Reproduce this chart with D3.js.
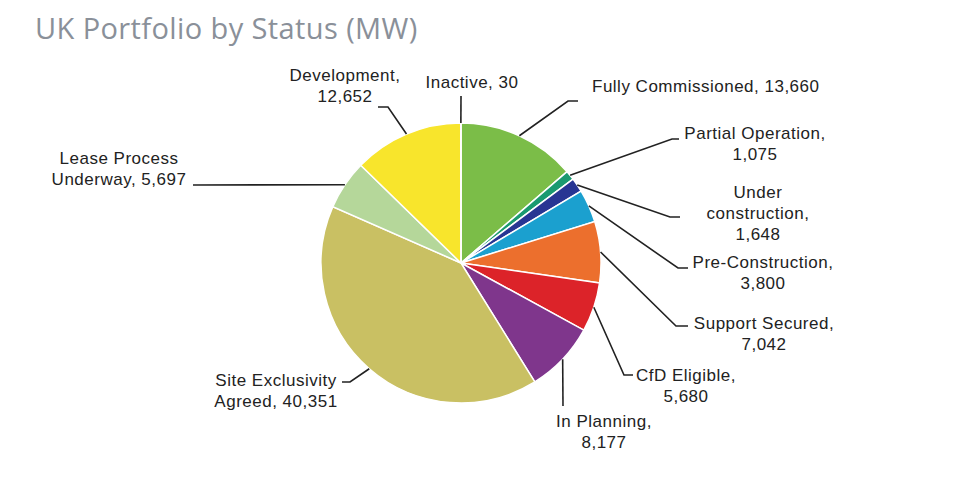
<!DOCTYPE html>
<html>
<head>
<meta charset="utf-8">
<script src="https://cdn.jsdelivr.net/npm/d3@7"></script>
<style>
  body { margin: 0; background: #fff; }
</style>
</head>
<body>
<script>
var canvasWidth = 960;
var canvasHeight = 478;
var PIE_RADIUS = 140;
var CX = 461, CY = 263;

// slices go clockwise from 12 o'clock
var statuses = ["Fully Commissioned", "Partial Operation", "Under construction",
                "Pre-Construction", "Support Secured", "CfD Eligible", "In Planning",
                "Site Exclusivity Agreed", "Lease Process Underway", "Development", "Inactive"];
var capacityMW = [13660, 1075, 1648, 3800, 7042, 5680, 8177, 40351, 5697, 12652, 30];
var sliceColors = ["#7bbd48", "#1a9a70", "#283593", "#1ba0cf", "#ec6f2d", "#dc2329",
                   "#7f368c", "#c9c063", "#b5d79a", "#f8e52c", "#9a9a9a"];

// label text lines ({v} = formatted value)
var labelLines = [
  ["Fully Commissioned, {v}"],
  ["Partial Operation,", "{v}"],
  ["Under", "construction,", "{v}"],
  ["Pre-Construction,", "{v}"],
  ["Support Secured,", "{v}"],
  ["CfD Eligible,", "{v}"],
  ["In Planning,", "{v}"],
  ["Site Exclusivity", "Agreed, {v}"],
  ["Lease Process", "Underway, {v}"],
  ["Development,", "{v}"],
  ["Inactive, {v}"]
];

// leader layout: elbow point, end point, text anchor/position (first line centre)
var labelLayout = [
  {elbow: [568, 101], end: [578, 101], anchor: "start",  tx: 592, ty: 86},
  {elbow: [672, 139], end: [679, 139], anchor: "middle", tx: 755, ty: 133},
  {elbow: [670, 217], end: [680, 217], anchor: "middle", tx: 758, ty: 192},
  {elbow: [678, 268], end: [688, 268], anchor: "middle", tx: 763, ty: 262},
  {elbow: [676, 326], end: [688, 326], anchor: "middle", tx: 764, ty: 323},
  {elbow: [624, 375], end: [633, 375], anchor: "middle", tx: 686, ty: 375},
  {elbow: [563, 406], end: [563, 406], anchor: "middle", tx: 604, ty: 421},
  {elbow: [350, 382], end: [342, 382], anchor: "middle", tx: 276, ty: 380},
  {elbow: [193, 185], end: [193, 185], anchor: "middle", tx: 119, ty: 158},
  {elbow: [388, 107], end: [378, 107], anchor: "middle", tx: 345, ty: 75},
  {elbow: [461, 96],  end: [461, 96],  anchor: "middle", tx: 472, ty: 82}
];

var LINE_HEIGHT = 21;
var fmt = d3.format(",");

var canvas = d3.select("body")
               .append("svg")
               .attr("width", canvasWidth)
               .attr("height", canvasHeight);

canvas.append("text")
      .attr("x", 35)
      .attr("y", 39)
      .text("UK Portfolio by Status (MW)")
      .attr("font-family", "'Open Sans', sans-serif")
      .attr("font-size", "29px")
      .attr("letter-spacing", "0.4px")
      .attr("fill", "#8a9099");

var pie = d3.pie().sort(null).value(d => d);
var slices = pie(capacityMW);

var arc = d3.arc().innerRadius(0).outerRadius(PIE_RADIUS);
var edgeArc = d3.arc().innerRadius(PIE_RADIUS).outerRadius(PIE_RADIUS);

var pieGroup = canvas.append("g")
                     .attr("transform", "translate(" + CX + "," + CY + ")");

pieGroup.selectAll("path")
        .data(slices)
        .enter()
        .append("path")
        .attr("d", arc)
        .attr("fill", (d, i) => sliceColors[i])
        .attr("stroke", "#fff")
        .attr("stroke-width", "1.5px");

// leader lines from slice edge (mid angle) to label
canvas.selectAll("polyline.leader")
      .data(slices)
      .enter()
      .append("polyline")
      .attr("class", "leader")
      .attr("points", (d, i) => {
          var p = edgeArc.centroid(d);
          var lay = labelLayout[i];
          return [[p[0] + CX, p[1] + CY], lay.elbow, lay.end].map(q => q.join(",")).join(" ");
      })
      .attr("fill", "none")
      .attr("stroke", "#222")
      .attr("stroke-width", "1.6px");

var labels = canvas.selectAll("text.label")
                   .data(slices)
                   .enter()
                   .append("text")
                   .attr("class", "label")
                   .attr("font-family", "'Liberation Sans', Arial, sans-serif")
                   .attr("font-size", "17px")
                   .attr("letter-spacing", "0.5px")
                   .attr("fill", "#222")
                   .attr("text-anchor", (d, i) => labelLayout[i].anchor);

labels.each(function(d, i) {
    var el = d3.select(this);
    var lay = labelLayout[i];
    labelLines[i].forEach((line, k) => {
        el.append("tspan")
          .attr("x", lay.tx)
          .attr("y", lay.ty + k * LINE_HEIGHT)
          .attr("dy", "0.35em")
          .text(line.replace("{v}", fmt(d.data)));
    });
});
</script>
</body>
</html>
